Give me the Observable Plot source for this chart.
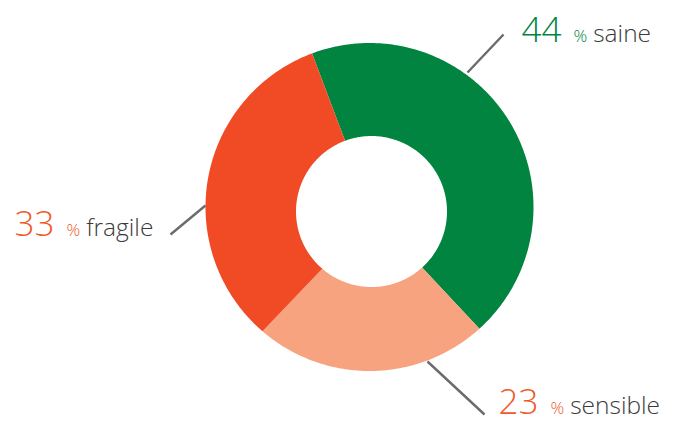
<!DOCTYPE html>
<html><head><meta charset="utf-8">
<script src="https://cdn.jsdelivr.net/npm/d3@7"></script>
<script src="https://cdn.jsdelivr.net/npm/@observablehq/plot@0.6"></script>
<style>html,body{margin:0;padding:0;background:#fff;}</style>
</head><body><div id="chart"></div>
<script>
// ---- data ----
const categories = ["saine", "sensible", "fragile"];
const shares = [44, 23, 33];
const percentSign = "%";
const sliceColors = ["#00843F", "#F7A380", "#F04B25"];
const accentColors = ["#00843F", "#F05A2A", "#F05A2A"];

// ---- layout ----
const W = 675, H = 421;
const outer = {cx: 369, cy: 206.5, r: 164};
const inner = {cx: 371, cy: 211, r: 75.5};
const startDeg = -20.5;
const callouts = [
  {x1: 467, y1: 72, x2: 503, y2: 34, tx: 521, ty: 41},
  {x1: 427, y1: 361, x2: 484, y2: 414, tx: 498, ty: 413},
  {x1: 205, y1: 205, x2: 170, y2: 234, tx: 14, ty: 235}
];

const a0 = startDeg * Math.PI / 180;
const arcs = d3.pie().sort(null).startAngle(a0).endAngle(a0 + 2 * Math.PI)(shares);
const ringPoints = [];
arcs.forEach((p, i) => {
  const n = Math.max(8, Math.ceil((p.endAngle - p.startAngle) * 80));
  for (let k = 0; k <= n; k++) {
    const a = p.startAngle + (p.endAngle - p.startAngle) * k / n;
    ringPoints.push({key: categories[i], x: outer.cx + outer.r * Math.sin(a), y: outer.cy - outer.r * Math.cos(a)});
  }
  for (let k = n; k >= 0; k--) {
    const a = p.startAngle + (p.endAngle - p.startAngle) * k / n;
    ringPoints.push({key: categories[i], x: inner.cx + inner.r * Math.sin(a), y: inner.cy - inner.r * Math.cos(a)});
  }
});

const labelRows = categories.map((c, i) => ({key: c, value: shares[i], ...callouts[i]}));

const chart = Plot.plot({
  width: W, height: H, margin: 0,
  style: {fontFamily: "'Open Sans', sans-serif", background: "#fff"},
  x: {domain: [0, W], range: [0, W], axis: null},
  y: {domain: [0, H], range: [0, H], axis: null},
  color: {domain: categories, range: sliceColors},
  marks: [
    Plot.line(ringPoints, {x: "x", y: "y", z: "key", fill: "key", stroke: null, curve: "linear-closed"}),
    Plot.link(labelRows, {x1: "x1", y1: "y1", x2: "x2", y2: "y2", stroke: "#6b6b6b", strokeWidth: 2.4}),
    Plot.text(labelRows, {x: "tx", y: "ty", text: d => `${d.value} ${percentSign} ${d.key}`, textAnchor: "start", lineAnchor: "bottom", fontSize: 23, fontWeight: 300, fill: "#3a3a3a"})
  ]
});

// Rich formatting of the callout texts
d3.select(chart).selectAll('g[aria-label="text"] text').each(function(_, i) {
  const row = labelRows[i];
  const t = d3.select(this);
  t.text(null);
  t.append("tspan").attr("font-size", 35).attr("fill", accentColors[i]).text(row.value);
  t.append("tspan").attr("dx", 12).attr("font-size", 17).attr("fill", accentColors[i]).text(percentSign);
  t.append("tspan").attr("dx", 6).attr("font-size", 24.5).attr("fill", "#3a3a3a").text(row.key);
});

document.getElementById("chart").appendChild(chart);
</script>
</body></html>
